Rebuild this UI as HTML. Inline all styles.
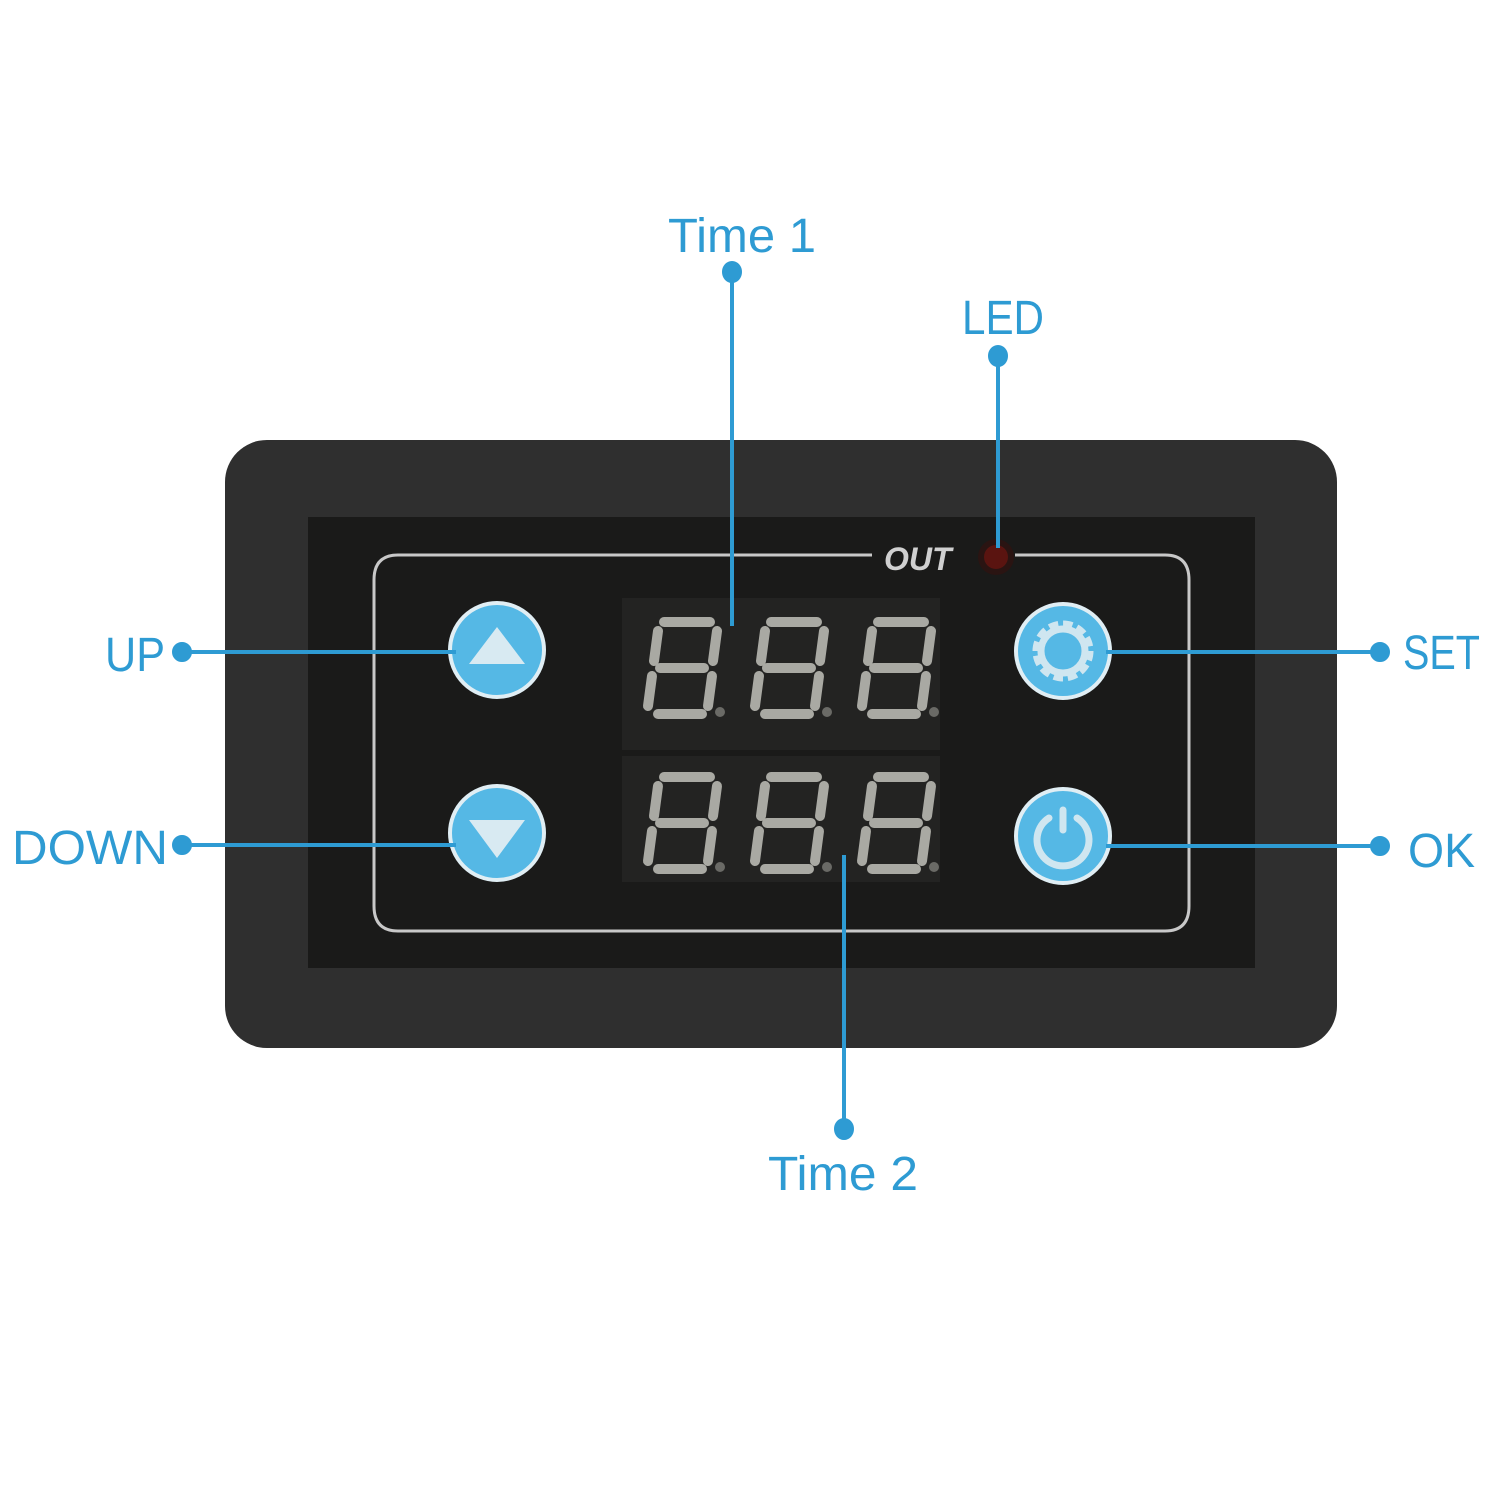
<!DOCTYPE html>
<html><head><meta charset="utf-8"><style>html,body{margin:0;padding:0;background:#fff}svg{display:block}</style></head>
<body>
<svg width="1500" height="1500" viewBox="0 0 1500 1500" xmlns="http://www.w3.org/2000/svg">
<defs>
<g id="dg" stroke="#a9a9a3" stroke-width="10" stroke-linecap="round" fill="none">
<line x1="24" y1="4" x2="70" y2="4"/>
<line x1="77" y1="13" x2="73" y2="43"/>
<line x1="72" y1="58" x2="68" y2="88"/>
<line x1="18" y1="96" x2="62" y2="96"/>
<line x1="8" y1="88" x2="12" y2="58"/>
<line x1="14" y1="43" x2="18" y2="13"/>
<line x1="20" y1="50" x2="64" y2="50"/>
<circle cx="80" cy="94" r="5" fill="#6a6a66" stroke="none"/>
</g>
</defs>
<rect x="225" y="440" width="1112" height="608" rx="42" fill="#2f2f2f"/>
<rect x="308" y="517" width="947" height="451" fill="#1a1a19"/>
<path d="M872 555 H398 Q374 555 374 580 V906 Q374 931 398 931 H1165 Q1189 931 1189 906 V580 Q1189 555 1165 555 H1015" fill="none" stroke="#c8c8c8" stroke-width="3"/>
<text x="884" y="570" font-family="Liberation Sans, sans-serif" font-size="32" font-style="italic" font-weight="bold" fill="#d0d0d0">OUT</text>
<circle cx="996" cy="557" r="18" fill="#2a1412"/>
<circle cx="996" cy="557" r="12" fill="#5a1410"/>
<rect x="622" y="598" width="318" height="152" fill="#232322"/>
<rect x="622" y="756" width="318" height="126" fill="#232322"/>
<use href="#dg" x="640" y="618"/><use href="#dg" x="747" y="618"/><use href="#dg" x="854" y="618"/>
<use href="#dg" x="640" y="773"/><use href="#dg" x="747" y="773"/><use href="#dg" x="854" y="773"/>
<g stroke="#e0eef4" stroke-width="4" fill="#55b8e5">
<circle cx="497" cy="650" r="47"/><circle cx="497" cy="833" r="47"/>
<circle cx="1063" cy="651" r="47"/><circle cx="1063" cy="836" r="47"/>
</g>
<polygon points="497,627 525,664 469,664" fill="#d8eaf2"/>
<polygon points="497,858 525,820 469,820" fill="#d8eaf2"/>
<circle cx="1063" cy="651" r="26" fill="none" stroke="#cfe6f0" stroke-width="9" stroke-dasharray="9 4.6"/>
<circle cx="1063" cy="651" r="22" fill="none" stroke="#cfe6f0" stroke-width="7"/>
<path d="M1049 818 A26 26 0 1 0 1077 818" fill="none" stroke="#cfe6f0" stroke-width="7" stroke-linecap="round"/>
<line x1="1063" y1="810" x2="1063" y2="830" stroke="#cfe6f0" stroke-width="7" stroke-linecap="round"/>
<g stroke="#2e9bd3" stroke-width="4" fill="#2e9bd3">
<line x1="732" y1="272" x2="732" y2="626"/><ellipse cx="732" cy="272" rx="8" ry="9"/>
<line x1="998" y1="356" x2="998" y2="548"/><ellipse cx="998" cy="356" rx="8" ry="9"/>
<line x1="182" y1="652" x2="456" y2="652"/><circle cx="182" cy="652" r="8"/>
<line x1="182" y1="845" x2="456" y2="845"/><circle cx="182" cy="845" r="8"/>
<line x1="1106" y1="652" x2="1380" y2="652"/><circle cx="1380" cy="652" r="8"/>
<line x1="1106" y1="846" x2="1380" y2="846"/><circle cx="1380" cy="846" r="8"/>
<line x1="844" y1="855" x2="844" y2="1129"/><ellipse cx="844" cy="1129" rx="8" ry="9"/>
</g>
<g font-family="Liberation Sans, sans-serif" font-size="48" fill="#2e9bd3">
<text x="668" y="252" textLength="148" lengthAdjust="spacingAndGlyphs">Time 1</text>
<text x="962" y="334" textLength="82" lengthAdjust="spacingAndGlyphs">LED</text>
<text x="105" y="671" textLength="60" lengthAdjust="spacingAndGlyphs">UP</text>
<text x="12" y="864" textLength="156" lengthAdjust="spacingAndGlyphs">DOWN</text>
<text x="1403" y="669" textLength="77" lengthAdjust="spacingAndGlyphs">SET</text>
<text x="1408" y="867" textLength="67" lengthAdjust="spacingAndGlyphs">OK</text>
<text x="768" y="1190" textLength="150" lengthAdjust="spacingAndGlyphs">Time 2</text>
</g>
</svg>
</body></html>
